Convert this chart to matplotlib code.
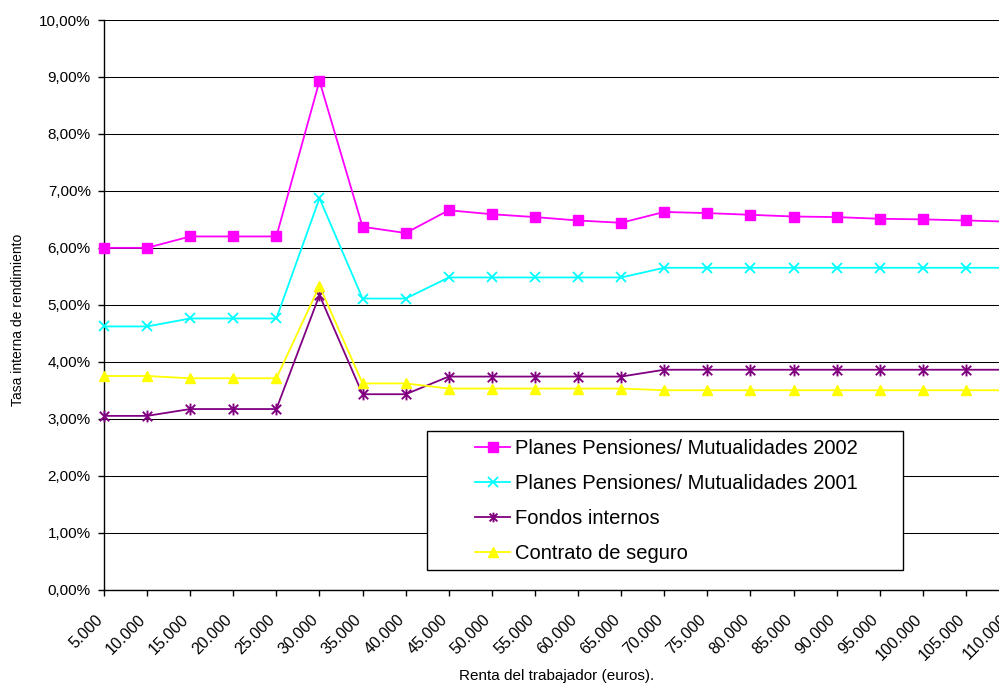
import matplotlib
matplotlib.use("Agg")
import matplotlib.pyplot as plt
import matplotlib.transforms as mtransforms
from matplotlib.path import Path
from matplotlib.patches import Rectangle

plt.rcParams['font.family'] = ['Liberation Sans', 'DejaVu Sans']

# Renta del trabajador (euros)
rentas = ['5.000', '10.000', '15.000', '20.000', '25.000', '30.000', '35.000',
          '40.000', '45.000', '50.000', '55.000', '60.000', '65.000', '70.000',
          '75.000', '80.000', '85.000', '90.000', '95.000', '100.000', '105.000',
          '110.000']

# Tasa interna de rendimiento (%)
planes_2002 = [6.00, 6.00, 6.20, 6.20, 6.20, 8.93, 6.37, 6.26, 6.66, 6.59, 6.54,
               6.48, 6.44, 6.63, 6.61, 6.58, 6.55, 6.54, 6.51, 6.50, 6.48, 6.46]
planes_2001 = [4.62, 4.62, 4.76, 4.76, 4.76, 6.87, 5.11, 5.11, 5.48, 5.48, 5.48,
               5.48, 5.48, 5.65, 5.65, 5.65, 5.65, 5.65, 5.65, 5.65, 5.65, 5.65]
fondos_internos = [3.05, 3.05, 3.17, 3.17, 3.17, 5.17, 3.43, 3.43, 3.74, 3.74, 3.74,
                   3.74, 3.74, 3.86, 3.86, 3.86, 3.86, 3.86, 3.86, 3.86, 3.86, 3.86]
contrato_seguro = [3.75, 3.75, 3.71, 3.71, 3.71, 5.33, 3.62, 3.62, 3.53, 3.53, 3.53,
                   3.53, 3.53, 3.50, 3.50, 3.50, 3.50, 3.50, 3.50, 3.50, 3.50, 3.50]

etiquetas = ['Planes Pensiones/ Mutualidades 2002',
             'Planes Pensiones/ Mutualidades 2001',
             'Fondos internos',
             'Contrato de seguro']

# marcador tipo asterisco (cruz + linea vertical)
asterisco = Path([(-1, -1), (1, 1), (-1, 1), (1, -1), (0, -1.25), (0, 1.25)],
                 [Path.MOVETO, Path.LINETO, Path.MOVETO, Path.LINETO,
                  Path.MOVETO, Path.LINETO])

W, H = 999, 686
fig = plt.figure(figsize=(W / 100, H / 100), dpi=100)
fig.patch.set_facecolor('white')

# el area del grafico sigue mas alla del borde derecho
left, right, top, bottom = 104, 1009, 20, 589.6
ax = fig.add_axes([left / W, 1 - bottom / H, (right - left) / W, (bottom - top) / H])

x = list(range(len(rentas)))
ax.plot(x, planes_2002, color='#FF00FF', lw=1.3, marker='s', ms=7,
        markeredgecolor='#FF00FF', label=etiquetas[0], clip_on=False, zorder=5)
ax.plot(x, planes_2001, color='#00FFFF', lw=1.3, marker='x', ms=7.5, mew=1.3,
        label=etiquetas[1], clip_on=False, zorder=5)
ax.plot(x, fondos_internos, color='#800080', lw=1.3, marker=asterisco, ms=8.5, mew=1.4,
        label=etiquetas[2], clip_on=False, zorder=5)
ax.plot(x, contrato_seguro, color='#FFFF00', lw=1.3, marker='^', ms=7.5,
        label=etiquetas[3], clip_on=False, zorder=5)

ax.set_xlim(0, len(rentas) - 1)
ax.set_ylim(0, 10)
ax.set_yticks(range(0, 11))
ax.set_yticklabels([f'{v},00%' for v in range(0, 11)])
ax.set_xticks(x)
ax.set_xticklabels(rentas)

ax.yaxis.grid(True, color='black', lw=0.75)
ax.set_axisbelow(True)
for s in ['top', 'right']:
    ax.spines[s].set_visible(False)
ax.spines['left'].set_linewidth(1.0)
ax.spines['bottom'].set_linewidth(1.0)

ax.tick_params(axis='y', direction='out', length=4, width=1, pad=5.5, labelsize=11)
ax.tick_params(axis='x', direction='out', length=4, width=1, pad=12, labelsize=11.5)

desplazamiento = mtransforms.ScaledTranslation(-9 / 100, 0, fig.dpi_scale_trans)
for lbl in ax.get_xticklabels():
    lbl.set_rotation(45)
    lbl.set_ha('right')
    lbl.set_va('top')
    lbl.set_rotation_mode('anchor')
    lbl.set_transform(lbl.get_transform() + desplazamiento)

fig.text(18 / W, 1 - 320 / H, 'Tasa interna de rendimiento', rotation=90,
         ha='center', va='center', fontsize=10)
fig.text(556.5 / W, 1 - 676 / H, 'Renta del trabajador (euros).',
         ha='center', va='center', fontsize=11)

# leyenda con recuadro propio
fig.patches.append(Rectangle((427 / W, 1 - 570 / H), (903 - 427) / W, (570 - 431) / H,
                             transform=fig.transFigure, facecolor='white',
                             edgecolor='black', lw=1.0, zorder=6))
leg = fig.legend(loc='upper left', bbox_to_anchor=(475 / W, 1 - 439 / H),
                 frameon=False, fontsize=14.5, handlelength=1.75, handletextpad=0.25,
                 labelspacing=0.8, borderpad=0, borderaxespad=0)
leg.set_zorder(7)
for h in leg.legend_handles:
    h.set_markersize(7)

fig.savefig('out.png', dpi=100, facecolor='white')
